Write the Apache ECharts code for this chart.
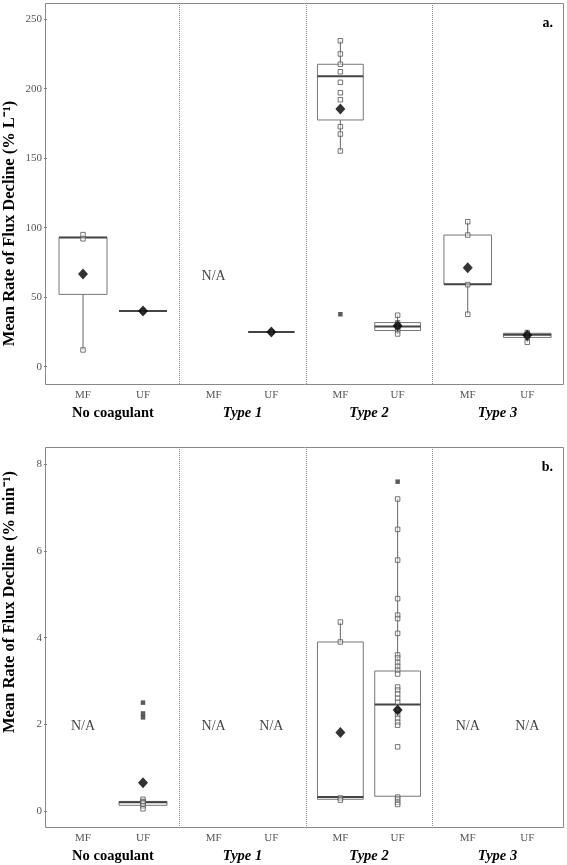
<!DOCTYPE html>
<html><head><meta charset="utf-8">
<script src="https://cdn.jsdelivr.net/npm/echarts@6/dist/echarts.min.js"></script>
<style>html,body{margin:0;padding:0;background:#fff}#c{width:567px;height:865px}</style>
</head><body><div id="c"></div>
<script>
// ---------- data ----------
const categories = ['MF', 'UF'];
const facets = ['No coagulant', 'Type 1', 'Type 2', 'Type 3'];
const panelTags = ['a.', 'b.'];
const yTitles = ['Mean Rate of Flux Decline (% L\u207B\u00B9)', 'Mean Rate of Flux Decline (% min\u207B\u00B9)'];
const yTicksA = [0, 50, 100, 150, 200, 250];
const yTicksB = [0, 2, 4, 6, 8];

// panel a: [min, q1, median, q3, max] per facet, per category (MF, UF)
const boxesA = [
  [[12, 52, 93, 93, 95], [40, 40, 40, 40, 40]],
  [null, [25, 25, 25, 25, 25]],
  [[155.2, 177.5, 209, 217.6, 234.5], [23.5, 26, 28.8, 31.7, 37]],
  [[37.7, 59.3, 59.3, 94.7, 104.3], [17.5, 21, 23, 24, 24.5]]
];
const pointsA = [
  [[12, 92, 95], [40]],
  [[], [25]],
  [[234.5, 225, 217.6, 212.2, 204.6, 197.1, 192.1, 172.7, 167.4, 155.2], [37, 31.5, 29, 27.5, 26, 23.5]],
  [[104.3, 94.7, 59, 37.7], [24.5, 23, 21, 17.5]]
];
const outliersA = [[[], []], [[], []], [[37.7], []], [[], []]];
const meansA = [[66.7, 40], [null, 25], [185.4, 29.5], [71.2, 22.5]];
const naA = [[false, false], [true, false], [false, false], [false, false]];
const naLevelA = 65;

// panel b
const boxesB = [
  [null, [0.05, 0.13, 0.2, 0.22, 0.27]],
  [null, null],
  [[0.25, 0.27, 0.32, 3.9, 4.36], [0.18, 0.34, 2.46, 3.23, 7.2]],
  [null, null]
];
const pointsB = [
  [[], [0.27, 0.22, 0.2, 0.18, 0.12, 0.05]],
  [[], []],
  [[4.36, 3.9, 0.3, 0.25],
   [7.2, 6.5, 5.79, 4.9, 4.52, 4.44, 4.1, 3.6, 3.53, 3.43, 3.34, 3.25, 3.16, 2.86, 2.79, 2.7, 2.6, 2.51,
    2.33, 2.23, 2.14, 2.05, 1.98, 1.48, 0.32, 0.27, 0.2, 0.15]],
  [[], []]
];
const outliersB = [[[], [2.5, 2.25, 2.16]], [[], []], [[], [7.6]], [[], []]];
const meansB = [[null, 0.65], [null, null], [1.81, 2.33], [null, null]];
const naB = [[true, false], [true, true], [false, false], [true, true]];
const naLevelB = 1.95;

// ---------- layout ----------
const facetLeft = [45, 179, 306, 432];
const facetRight = 563;
const rowTop = [3, 447];
const rowBottom = [384, 827];
const yRange = [[-12.5, 261.7], [-0.37, 8.4]];
const titlePadding = [[0, 60, 0, 0], [0, 0, 0, 70]];
const FONT = '"Liberation Serif", "Times New Roman", serif';

const panels = [
  {boxes: boxesA, points: pointsA, outliers: outliersA, means: meansA, na: naA, naLevel: naLevelA, ticks: yTicksA},
  {boxes: boxesB, points: pointsB, outliers: outliersB, means: meansB, na: naB, naLevel: naLevelB, ticks: yTicksB}
];

const grid = [], xAxis = [], yAxis = [], series = [], graphic = [];
let gi = 0;
panels.forEach((P, r) => {
  facets.forEach((fname, f) => {
    const left = facetLeft[f];
    const right = f < 3 ? facetLeft[f + 1] : facetRight;
    grid.push({left: left, top: rowTop[r], width: right - left, height: rowBottom[r] - rowTop[r], containLabel: false});
    xAxis.push({
      gridIndex: gi, type: 'value', min: 0.4, max: 2.6,
      axisLine: {show: false}, splitLine: {show: false},
      axisTick: {show: false},
      axisLabel: {customValues: [1, 2], formatter: v => categories[Math.round(v) - 1],
        color: '#555', fontFamily: FONT, fontSize: 11, margin: 6},
      name: fname, nameLocation: 'middle', nameGap: 22,
      nameTextStyle: {fontFamily: FONT, fontSize: 14.5, fontWeight: 'bold',
        fontStyle: f === 0 ? 'normal' : 'italic', color: '#000'}
    });
    const first = f === 0;
    yAxis.push({
      gridIndex: gi, type: 'value', min: yRange[r][0], max: yRange[r][1],
      axisLine: {show: first, lineStyle: {color: '#888', width: 1, opacity: 0}}, splitLine: {show: false},
      axisTick: {show: first, customValues: P.ticks, length: 3, lineStyle: {color: '#777', opacity: 1}},
      axisLabel: {show: first, customValues: P.ticks, color: '#555', fontFamily: FONT, fontSize: 11, margin: 5},
      name: first ? yTitles[r] : '', nameLocation: 'middle', nameGap: 29,
      nameTextStyle: {fontFamily: FONT, fontSize: 16.5, fontWeight: 'bold', color: '#000', padding: titlePadding[r]}
    });
    // boxes
    const boxData = [];
    P.boxes[f].forEach((b, c) => { if (b) boxData.push([c + 1].concat(b)); });
    series.push({
      type: 'custom', xAxisIndex: gi, yAxisIndex: gi, data: boxData, clip: false, z: 2,
      renderItem: (params, api) => {
        const x = api.value(0);
        const w = api.size([0.8, 0])[0];
        const pMin = api.coord([x, api.value(1)]);
        const pQ1 = api.coord([x, api.value(2)]);
        const pMed = api.coord([x, api.value(3)]);
        const pQ3 = api.coord([x, api.value(4)]);
        const pMax = api.coord([x, api.value(5)]);
        const cx = pMed[0];
        const st = {stroke: '#666', lineWidth: 1, fill: null};
        return {type: 'group', children: [
          {type: 'line', shape: {x1: cx, y1: pQ3[1], x2: cx, y2: pMax[1]}, style: st},
          {type: 'line', shape: {x1: cx, y1: pQ1[1], x2: cx, y2: pMin[1]}, style: st},
          {type: 'rect', shape: {x: cx - w / 2, y: pQ3[1], width: w, height: Math.max(pQ1[1] - pQ3[1], 0)},
            style: {stroke: '#777', lineWidth: 1, fill: 'rgba(255,255,255,0)'}},
          {type: 'line', shape: {x1: cx - w / 2, y1: pMed[1], x2: cx + w / 2, y2: pMed[1]},
            style: {stroke: '#444', lineWidth: 2}}
        ]};
      }
    });
    // hollow points
    const pts = [];
    P.points[f].forEach((arr, c) => arr.forEach(v => pts.push([c + 1, v])));
    series.push({type: 'scatter', xAxisIndex: gi, yAxisIndex: gi, data: pts, symbol: 'rect', symbolSize: 4.5,
      itemStyle: {color: 'rgba(255,255,255,0.6)', borderColor: '#555', borderWidth: 1}, z: 3, silent: true});
    // outliers
    const outs = [];
    P.outliers[f].forEach((arr, c) => arr.forEach(v => outs.push([c + 1, v])));
    series.push({type: 'scatter', xAxisIndex: gi, yAxisIndex: gi, data: outs, symbol: 'rect', symbolSize: 4.5,
      itemStyle: {color: '#333'}, z: 4, silent: true});
    // means
    const ms = [];
    P.means[f].forEach((v, c) => { if (v !== null) ms.push([c + 1, v]); });
    series.push({type: 'scatter', xAxisIndex: gi, yAxisIndex: gi, data: ms, symbol: 'diamond', symbolSize: [10, 11],
      itemStyle: {color: '#000'}, z: 5, silent: true});
    // N/A labels
    const nas = [];
    P.na[f].forEach((flag, c) => { if (flag) nas.push([c + 1, P.naLevel]); });
    series.push({type: 'scatter', xAxisIndex: gi, yAxisIndex: gi, data: nas, symbolSize: 0, z: 6, silent: true,
      label: {show: true, position: 'inside', formatter: 'N/A', fontFamily: FONT, fontSize: 14, color: '#111'}});
    gi++;
  });
  // frame
  graphic.push({type: 'rect', shape: {x: facetLeft[0] + 0.5, y: rowTop[r] + 0.5,
      width: facetRight - facetLeft[0], height: rowBottom[r] - rowTop[r]},
    style: {stroke: '#888', lineWidth: 1, fill: null}, z: 10, silent: true});
  for (let f = 1; f < 4; f++) {
    graphic.push({type: 'line', shape: {x1: facetLeft[f] + 0.5, y1: rowTop[r], x2: facetLeft[f] + 0.5, y2: rowBottom[r]},
      style: {stroke: '#888', lineWidth: 1, lineDash: [1, 1]}, z: 10, silent: true});
  }
  graphic.push({type: 'text', x: 553, y: rowTop[r] + 20, z: 10, silent: true,
    style: {text: panelTags[r], fontFamily: FONT, fontSize: 14, fontWeight: 'bold', fill: '#000',
      align: 'right', verticalAlign: 'middle'}});
});

const chart = echarts.init(document.getElementById('c'), null, {renderer: 'canvas'});
chart.setOption({animation: false, backgroundColor: '#fff', grid, xAxis, yAxis, series, graphic});
</script></body></html>
